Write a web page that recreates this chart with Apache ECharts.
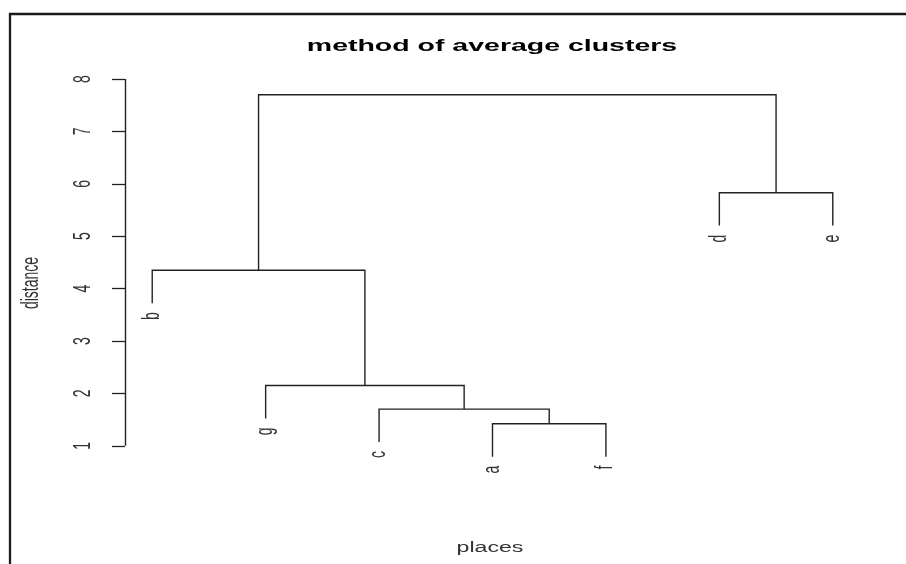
<!DOCTYPE html>
<html>
<head>
<meta charset="utf-8">
<script src="https://cdn.jsdelivr.net/npm/echarts@6/dist/echarts.min.js"></script>
<style>
html, body { margin: 0; padding: 0; background: #fff; }
#main { width: 906px; height: 564px; }
</style>
</head>
<body>
<div id="main"></div>
<script>
// 叶子（原始顺序）和 R 风格的 merge 表：负数 = 叶子，正数 = 前面的合并
var leafNames = ['a', 'b', 'c', 'd', 'e', 'f', 'g'];
var mergeLeft = [-1, -3, -7, -2, -4, 4];
var mergeRight = [-6, 1, 2, 3, -5, 5];
var mergeHeight = [1.42, 1.70, 2.15, 4.35, 5.83, 7.70];
var leafOrder = [2, 7, 3, 1, 6, 4, 5]; // b g c a f d e
var yTicks = [1, 2, 3, 4, 5, 6, 7, 8];
var hang = 0.1;

var STRETCH = 1.65; // 原图的字是横向拉宽的
var FONT = '"Liberation Sans", Arial, sans-serif';
var INK = '#222';

var n = leafNames.length;
var drop = hang * (Math.max.apply(null, mergeHeight) - Math.min.apply(null, mergeHeight));
var xPad = 0.04 * (n - 1);

// 每个叶子的 x = 在顺序里的位置
var leafX = {};
for (var i = 0; i < leafOrder.length; i++) {
  leafX[leafOrder[i]] = i + 1;
}

var nodeX = [];
var segs = [];
var leaves = [];

function childPos(id, parentH) {
  if (id < 0) {
    var x = leafX[-id];
    var y = parentH - drop;
    leaves.push([x, y, leafNames[-id - 1]]);
    return [x, y];
  }
  return [nodeX[id - 1], mergeHeight[id - 1]];
}

for (var k = 0; k < mergeHeight.length; k++) {
  var h = mergeHeight[k];
  var l = childPos(mergeLeft[k], h);
  var r = childPos(mergeRight[k], h);
  nodeX[k] = (l[0] + r[0]) / 2;
  segs.push({ coords: [l, [l[0], h], [r[0], h], r] });
}

// 竖着写、横向拉宽的文字
function vText(str, x, y, align) {
  return {
    type: 'text',
    x: x,
    y: y,
    rotation: Math.PI / 2,
    scaleY: STRETCH,
    style: {
      text: str,
      font: '14px ' + FONT,
      fill: '#333',
      align: align,
      verticalAlign: 'middle'
    }
  };
}

var chart = echarts.init(document.getElementById('main'));

var option = {
  backgroundColor: '#fff',
  animation: false,
  grid: { left: 125, width: 735, top: 79, height: 393 },
  xAxis: {
    type: 'value',
    min: 1 - xPad,
    max: n + xPad,
    show: false
  },
  yAxis: {
    type: 'value',
    min: 0.5,
    max: 8,
    axisLine: { show: false },
    splitLine: { show: false },
    axisTick: {
      show: true,
      length: 13,
      customValues: yTicks,
      lineStyle: { color: INK, width: 1.3 }
    },
    axisLabel: { show: false }
  },
  graphic: [
    {
      type: 'polyline',
      shape: { points: [[10, 570], [10, 14], [912, 14]] },
      style: { stroke: '#1a1a1a', lineWidth: 2.3, fill: null }
    },
    {
      type: 'text',
      x: 492, y: 47,
      scaleX: 1.78,
      style: {
        text: 'method of average clusters',
        font: 'bold 16px ' + FONT,
        fill: '#000',
        align: 'center',
        verticalAlign: 'middle'
      }
    },
    {
      type: 'text',
      x: 490, y: 548,
      scaleX: STRETCH,
      style: {
        text: 'places',
        font: '14px ' + FONT,
        fill: '#333',
        align: 'center',
        verticalAlign: 'middle'
      }
    },
    vText('distance', 32, 283, 'center')
  ],
  series: [
    {
      // 树枝
      type: 'lines',
      coordinateSystem: 'cartesian2d',
      polyline: true,
      silent: true,
      lineStyle: { color: INK, width: 1.4, opacity: 1 },
      data: segs
    },
    {
      // y 轴竖线，只画 1 到 8
      type: 'lines',
      coordinateSystem: 'cartesian2d',
      silent: true,
      lineStyle: { color: INK, width: 1.4, opacity: 1 },
      data: [{ coords: [[1 - xPad, yTicks[0]], [1 - xPad, yTicks[yTicks.length - 1]]] }]
    },
    {
      // y 轴刻度数字（竖着写）
      type: 'custom',
      silent: true,
      encode: { x: 0, y: 1 },
      data: yTicks.map(function (v) { return [1 - xPad, v]; }),
      renderItem: function (params, api) {
        var p = api.coord([api.value(0), api.value(1)]);
        return vText(String(yTicks[params.dataIndex]), p[0] - 41, p[1], 'center');
      }
    },
    {
      // 叶子的名字
      type: 'custom',
      silent: true,
      encode: { x: 0, y: 1 },
      data: leaves.map(function (d) { return [d[0], d[1]]; }),
      renderItem: function (params, api) {
        var p = api.coord([api.value(0), api.value(1)]);
        return vText(leaves[params.dataIndex][2], p[0], p[1] + 9, 'right');
      }
    }
  ]
};

chart.setOption(option);
</script>
</body>
</html>
